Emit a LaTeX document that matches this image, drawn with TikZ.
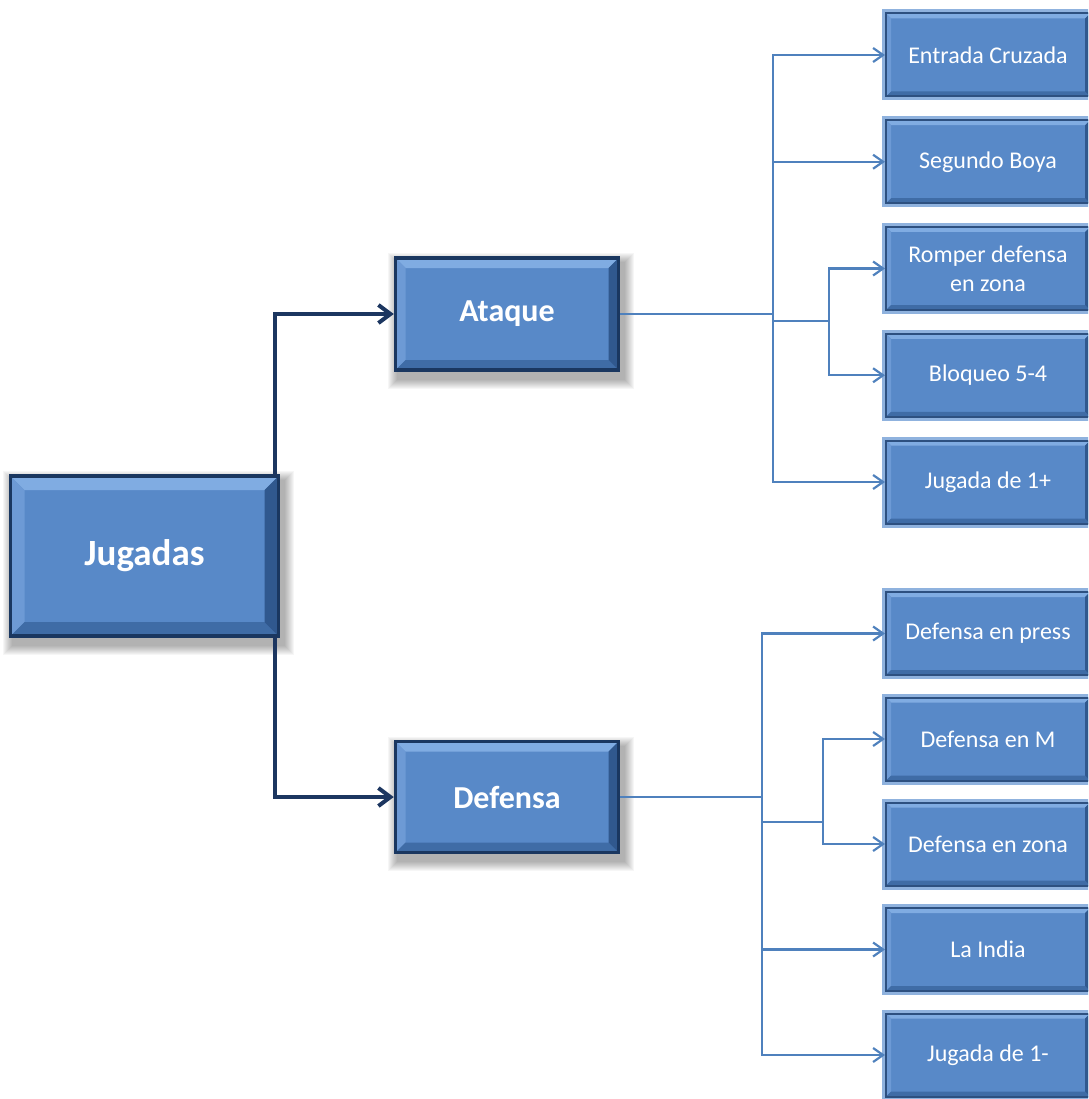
\documentclass[tikz,border=0pt]{standalone}
\usepackage{fontspec}
\setmainfont{Carlito}
\usetikzlibrary{arrows.meta,backgrounds}

\definecolor{boxfill}{HTML}{5889C8}
\definecolor{bevtop}{HTML}{80ACE2}
\definecolor{bevleft}{HTML}{6D9AD5}
\definecolor{bevbottom}{HTML}{3F6CA6}
\definecolor{bevright}{HTML}{30588E}
\definecolor{mainborder}{HTML}{1A3760}
\definecolor{leafborder}{HTML}{2D5080}
\definecolor{leafhalo}{HTML}{8FB2DE}
\definecolor{linkblue}{HTML}{4F81BD}
\definecolor{linknavy}{HTML}{1C3660}

\tikzset{
  bevel/.style={path picture={
    \path (path picture bounding box.north west) coordinate (pnw)
          (path picture bounding box.north east) coordinate (pne)
          (path picture bounding box.south west) coordinate (psw)
          (path picture bounding box.south east) coordinate (pse);
    \fill[bevtop] (pnw) -- (pne) -- ([shift={(-#1,-#1)}]pne) -- ([shift={(#1,-#1)}]pnw) -- cycle;
    \fill[bevleft] (pnw) -- (psw) -- ([shift={(#1,#1)}]psw) -- ([shift={(#1,-#1)}]pnw) -- cycle;
    \fill[bevbottom] (psw) -- (pse) -- ([shift={(-#1,#1)}]pse) -- ([shift={(#1,#1)}]psw) -- cycle;
    \fill[bevright] (pne) -- (pse) -- ([shift={(-#1,#1)}]pse) -- ([shift={(-#1,-#1)}]pne) -- cycle;
  }},
  mainbox/.style={rectangle, fill=boxfill, draw=mainborder, line width=3.5pt,
    text=white, font=\bfseries, inner sep=0pt},
  leafbox/.style={rectangle, fill=boxfill, draw=leafborder, line width=2pt,
    preaction={draw=leafhalo, line width=8pt},
    bevel=5pt, text=white, align=center, inner sep=0pt,
    minimum width=204, minimum height=83,
    font=\fontsize{24}{29}\selectfont},
  linkline/.style={draw=linkblue, line width=2.2pt},
  linkarrow/.style={linkline, -{Straight Barb[length=10pt,width=14pt,line width=2.2pt]}},
  mainarrow/.style={draw=linknavy, line width=4pt, line cap=rect,
    -{Straight Barb[length=12pt,width=18pt,line width=4pt]}},
}

\begin{document}
\begin{tikzpicture}[x=1pt,y=-1pt]
  \useasboundingbox (0,0) rectangle (1088,1099);
  \clip (0,0) rectangle (1088,1099);

  % main boxes
  \node[mainbox, bevel=14pt, minimum width=268, minimum height=160,
        font=\bfseries\fontsize{37}{40}\selectfont] (jugadas) at (144.5,556) {Jugadas};
  \node[mainbox, bevel=10pt, minimum width=223, minimum height=112,
        font=\bfseries\fontsize{32}{36}\selectfont] (ataque) at (507,314) {Ataque};
  \node[mainbox, bevel=10pt, minimum width=223, minimum height=111,
        font=\bfseries\fontsize{32}{36}\selectfont] (defensa) at (507,797) {Defensa};

  % soft shadows behind the main boxes
  \begin{scope}[on background layer]
    \foreach \n in {jugadas,ataque,defensa}{
      \foreach \i in {1,...,10}{
        \fill[black, opacity=0.035]
          ([shift={(-\i pt+4pt, \i pt-7pt)}]\n.north west) rectangle
          ([shift={(\i pt+4pt, -\i pt-7pt)}]\n.south east);
      }
    }
  \end{scope}

  % attack plays
  \node[leafbox] (a1) at (988,55)     {Entrada Cruzada};
  \node[leafbox] (a2) at (988,161.75) {Segundo Boya};
  \node[leafbox] (a3) at (988,268.5)  {Romper defensa\\en zona};
  \node[leafbox] (a4) at (988,375.25) {Bloqueo 5-4};
  \node[leafbox] (a5) at (988,482)    {Jugada de 1+};

  % defence plays
  \node[leafbox] (d1) at (988,633.5)  {Defensa en press};
  \node[leafbox] (d2) at (988,739)    {Defensa en M};
  \node[leafbox] (d3) at (988,844)    {Defensa en zona};
  \node[leafbox] (d4) at (988,949.5)  {La India};
  \node[leafbox] (d5) at (988,1055)   {Jugada de 1-};

  % junction points of the trees
  \coordinate (mj) at (275,0);
  \coordinate (ta) at (773,0);
  \coordinate (sa) at (829,321);
  \coordinate (td) at (762,0);
  \coordinate (sd) at (823,822);

  % root to categories
  \draw[mainarrow] (jugadas.north -| mj) |- (ataque.west);
  \draw[mainarrow] (jugadas.south -| mj) |- (defensa.west);

  % attack tree
  \draw[linkline] (ataque.east) -- (ataque.east -| ta);
  \draw[linkline, line cap=rect] (ta |- a1.west) -- (ta |- a5.west);
  \draw[linkarrow] (ta |- a1.west) -- (a1.west);
  \draw[linkarrow] (ta |- a2.west) -- (a2.west);
  \draw[linkarrow] (ta |- a5.west) -- (a5.west);
  \draw[linkline] (ta |- sa) -- (sa);
  \draw[linkline, line cap=rect] (sa |- a3.west) -- (sa |- a4.west);
  \draw[linkarrow] (sa |- a3.west) -- (a3.west);
  \draw[linkarrow] (sa |- a4.west) -- (a4.west);

  % defence tree
  \draw[linkline] (defensa.east) -- (defensa.east -| td);
  \draw[linkline, line cap=rect] (td |- d1.west) -- (td |- d5.west);
  \draw[linkarrow] (td |- d1.west) -- (d1.west);
  \draw[linkarrow] (td |- d4.west) -- (d4.west);
  \draw[linkarrow] (td |- d5.west) -- (d5.west);
  \draw[linkline] (td |- sd) -- (sd);
  \draw[linkline, line cap=rect] (sd |- d2.west) -- (sd |- d3.west);
  \draw[linkarrow] (sd |- d2.west) -- (d2.west);
  \draw[linkarrow] (sd |- d3.west) -- (d3.west);
\end{tikzpicture}
\end{document}
